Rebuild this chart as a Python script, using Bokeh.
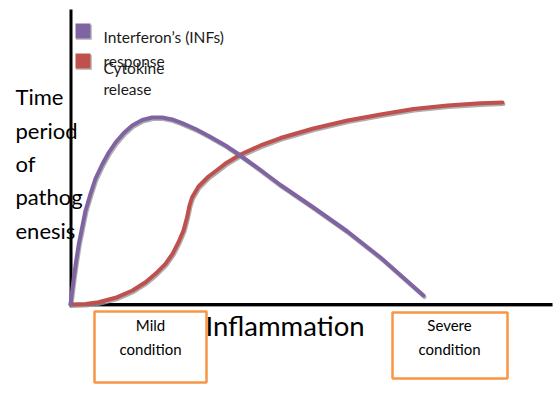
import numpy as np
from bokeh.plotting import figure
from bokeh.models import Range1d, Label
from bokeh.embed import file_html
from bokeh.resources import INLINE

# ---- data (arbitrary schematic units: x = inflammation, y = time period) ----
inf_x = [0.00, 0.35, 0.69, 1.19, 1.73, 2.43, 3.12, 4.16, 5.20, 6.59, 7.96, 9.36, 11.08,
         12.83, 14.91, 16.99, 19.06, 21.14, 23.22, 25.99, 28.75, 32.22, 34.72, 39.09,
         43.66, 50.52, 57.59, 64.45, 73.39]
inf_y = [0.00, 4.86, 9.38, 15.28, 21.08, 26.84, 32.64, 38.44, 43.75, 48.61, 52.78, 56.25,
         59.55, 62.15, 64.06, 64.93, 64.93, 64.24, 62.95, 60.94, 58.51, 55.21, 52.43,
         47.22, 41.49, 33.68, 25.35, 16.32, 3.13]
cyt_x = [0.00, 3.12, 5.82, 9.36, 12.89, 15.59, 17.67, 19.75, 21.21, 22.45, 23.49, 24.22,
         24.74, 25.26, 26.61, 28.69, 30.35, 32.22, 35.34, 39.50, 43.66, 50.52, 57.59,
         64.45, 71.31, 78.38, 85.24, 89.81]
cyt_y = [0.00, 0.17, 0.80, 2.33, 4.86, 7.74, 10.66, 14.13, 17.60, 21.63, 25.69, 30.21,
         34.38, 37.15, 40.97, 44.44, 46.53, 48.96, 52.08, 55.21, 57.81, 61.11, 63.89,
         65.97, 67.88, 69.10, 69.86, 70.14]
series_names = ["Interferon\u2019s (INFs)\nresponse", "Cytokine\nrelease"]
y_label_lines = ["Time", "period", "of", "pathog", "enesis"]
x_label = "Inflammation"
box_labels = ["Mild\ncondition", "Severe\ncondition"]

PURPLE = "#8064A2"
RED = "#C0504D"
ORANGE = "#F79646"
SHADOW = "#9a9a9a"
FONT = "Lato"

# layout helpers: reference pixel -> data units
SX, SY = 4.81, 2.88
OX, OY = 70, 304
def X(px):
    return (px - OX) / SX
def Y(py):
    return (OY - py) / SY

W, H = 555, 396
p = figure(width=W, height=H, output_backend="svg", toolbar_location=None,
           x_range=Range1d(X(0), X(W)), y_range=Range1d(Y(H), Y(0)),
           min_border=0)
p.axis.visible = False
p.grid.visible = False
p.outline_line_color = None
p.background_fill_color = "white"
p.border_fill_color = "white"

# axes (drawn as lines) with shadow
p.line([X(70), X(552)], [Y(305.5), Y(305.5)], line_color=SHADOW, line_width=2)
p.line([X(70), X(552)], [Y(304), Y(304)], line_color="black", line_width=3)
p.line([X(70.5), X(70.5)], [Y(9), Y(305)], line_color="black", line_width=3)

# curves with soft shadow
dx, dy = 0.9 / SX, 1.6 / SY
for xs, ys in [(cyt_x, cyt_y), (inf_x, inf_y)]:
    xa, ya = np.array(xs), np.array(ys)
    p.line(xa + dx, ya - dy, line_color=SHADOW, line_width=4, line_alpha=0.8,
           line_join="round", line_cap="round")
for xs, ys, col in [(cyt_x, cyt_y, RED), (inf_x, inf_y, PURPLE)]:
    p.line(xs, ys, line_color=col, line_width=4, line_join="round", line_cap="round")

def add_text(px, py, t, fs, align="left", color="black"):
    # py is the reference baseline; compensate the renderer's baseline placement
    p.add_layout(Label(x=X(px), y=Y(py - 0.44 * fs), text=t, text_font=FONT,
                       text_font_size=f"{fs}px", text_color=color,
                       text_baseline="alphabetic", text_align=align))

# legend
n0 = series_names[0].split("\n")
n1 = series_names[1].split("\n")
legend_rows = [(23, PURPLE, [(43, n0[0]), (67, n0[1])]),
               (53, RED, [(74, n1[0]), (95, n1[1])])]
for top, col, texts in legend_rows:
    p.quad(left=X(75.5), right=X(91.5), top=Y(top + 1.5), bottom=Y(top + 16.5),
           fill_color=SHADOW, line_color=None, fill_alpha=0.6)
    p.quad(left=X(75), right=X(90), top=Y(top), bottom=Y(top + 15),
           fill_color=col, line_color=None)
for top, col, texts in legend_rows:
    for base, t in texts:
        add_text(103, base, t, 15.5, color="#1a1a1a")

# y label (multi-line)
for i, t in enumerate(y_label_lines):
    add_text(15, 106 + 33.3 * i, t, 22)

# boxes
p.quad(left=[X(94), X(392)], right=[X(206), X(507)], top=[Y(311), Y(312)],
       bottom=[Y(382), Y(378)], fill_color="white", line_color=ORANGE, line_width=2.5)

# x label
add_text(205, 337, x_label, 27.5)

for cx, lab in zip([150, 449], box_labels):
    l1, l2 = lab.split("\n")
    add_text(cx, 331.5, l1, 15, align="center")
    add_text(cx, 355, l2, 15, align="center")

open("out.html", "w").write(file_html(p, INLINE))
